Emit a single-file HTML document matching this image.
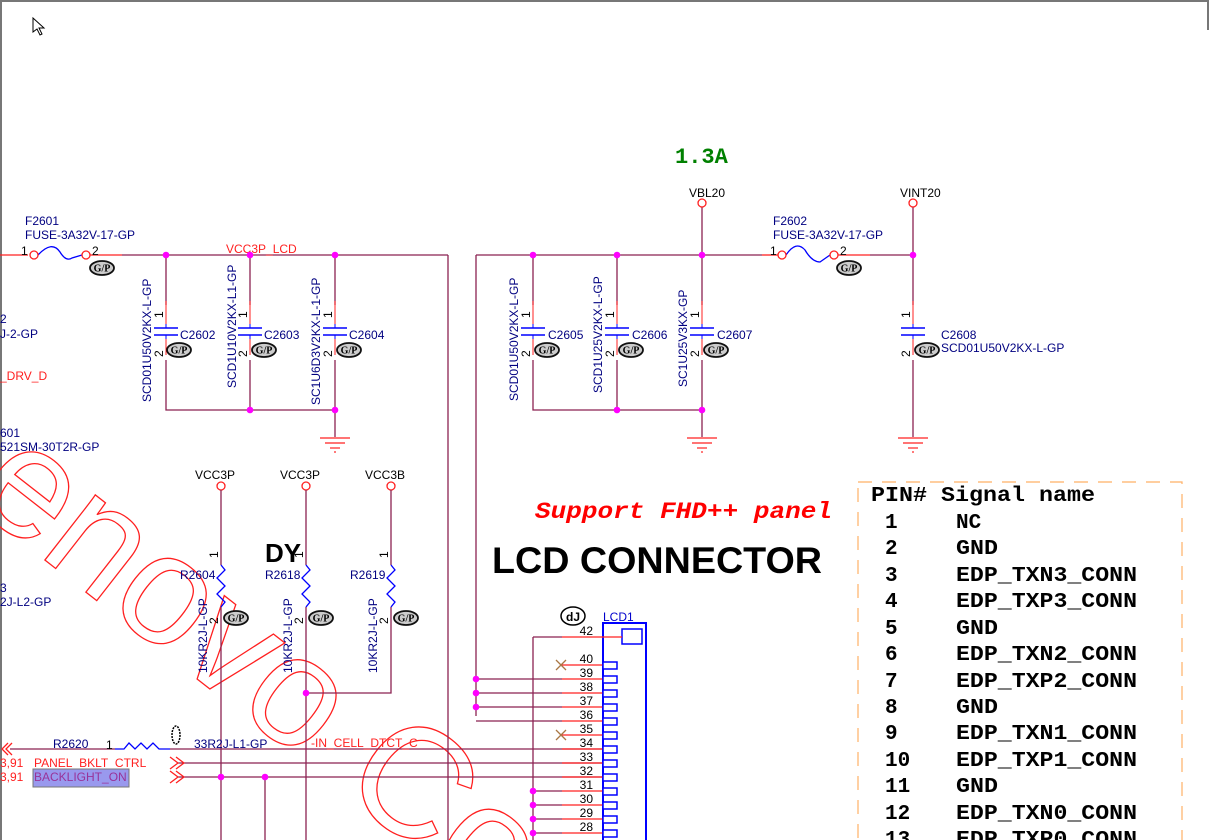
<!DOCTYPE html>
<html><head><meta charset="utf-8"><style>
html,body{margin:0;padding:0;background:#fff;overflow:hidden;width:1211px;height:840px;}
svg{display:block;}
.n{font-family:"Liberation Sans",sans-serif;font-size:12px;fill:#000080;}
.r{font-family:"Liberation Sans",sans-serif;font-size:12px;fill:#ff2020;}
.k{font-family:"Liberation Sans",sans-serif;font-size:12px;fill:#000;}
.m{font-family:"Liberation Mono",monospace;font-weight:bold;font-size:21px;fill:#000;}
</style></head><body>
<svg width="1211" height="840" viewBox="0 0 1211 840" xmlns="http://www.w3.org/2000/svg">
<defs>
<g id="gp"><ellipse cx="0" cy="0" rx="12" ry="7" fill="#ccc" stroke="#111" stroke-width="1.8"/><text x="0" y="3.5" text-anchor="middle" font-family="Liberation Serif,serif" font-weight="bold" font-size="10" fill="#000">G/P</text></g>
<g id="gnd" stroke="#ff2020" stroke-width="1.2"><line x1="-15" y1="0" x2="15" y2="0"/><line x1="-10" y1="5" x2="10" y2="5"/><line x1="-5" y1="10" x2="5" y2="10"/><line x1="-1" y1="14" x2="1" y2="14"/></g>
<g id="cap"><line x1="0" y1="-30" x2="0" y2="-6" stroke="#ff2020"/><line x1="0" y1="6" x2="0" y2="24" stroke="#ff2020"/><line x1="-12" y1="-3" x2="12" y2="-3" stroke="#0000ff" stroke-width="1.5"/><line x1="-12" y1="4" x2="12" y2="4" stroke="#0000ff" stroke-width="1.5"/><line x1="0" y1="-3" x2="0" y2="-7" stroke="#0000ff"/><line x1="0" y1="4" x2="0" y2="8" stroke="#0000ff"/></g>
<g id="dot"><circle r="3.3" fill="#ff00ff"/></g>
<g id="pin"><rect x="0" y="-6" width="14" height="7" fill="#fff" stroke="#0000ff" stroke-width="1.5"/></g>
</defs>
<line x1="0" y1="1" x2="1208" y2="1" stroke="#777" stroke-width="2"/>
<line x1="1" y1="0" x2="1" y2="840" stroke="#777" stroke-width="2"/>
<line x1="1208" y1="0" x2="1208" y2="30" stroke="#777" stroke-width="2"/>
<path d="M33 18 L33 32 L37 29 L40 35 L42 34 L39 28 L44 28 Z" fill="#fff" stroke="#000" stroke-width="1"/>

<text transform="translate(-32,500) rotate(38)" font-family="Liberation Sans,sans-serif" font-size="156" fill="none" stroke="#ff2020" stroke-width="1.3">enovo Confidential</text>

<g fill="none" stroke-width="1.3">
<line x1="0" y1="255" x2="28" y2="255" stroke="#ff2020"/>
<line x1="90" y1="255" x2="122" y2="255" stroke="#ff2020"/>
<line x1="122" y1="255" x2="448" y2="255" stroke="#8b2252"/>
<line x1="448" y1="255" x2="448" y2="840" stroke="#8b2252"/>
<path d="M38 255 Q52 240 60 252 Q66 262 72 258 L82 255" stroke="#0000ff"/>
<circle cx="34" cy="255" r="4" stroke="#ff2020" fill="#fff"/>
<circle cx="86" cy="255" r="4" stroke="#ff2020" fill="#fff"/>
<path d="M166 255 V305 M250 255 V305 M335 255 V305 M166 360 V410 H335 M250 360 V410 M335 360 V437" stroke="#8b2252"/>
</g>
<text class="n" x="25" y="225">F2601</text>
<text class="n" x="25" y="239">FUSE-3A32V-17-GP</text>
<text class="k" x="21" y="255" font-size="11">1</text><text class="k" x="92" y="255" font-size="11">2</text>
<use href="#gp" x="102" y="268"/>
<text class="r" x="226" y="253">VCC3P_LCD</text>
<use href="#cap" x="166" y="331"/><use href="#cap" x="250" y="331"/><use href="#cap" x="335" y="331"/>
<use href="#gp" x="179" y="350"/><use href="#gp" x="264" y="350"/><use href="#gp" x="349" y="350"/>
<text class="n" x="180" y="339">C2602</text><text class="n" x="264" y="339">C2603</text><text class="n" x="349" y="339">C2604</text>
<text transform="translate(163,318) rotate(-90)" class="k">1</text><text transform="translate(163,357) rotate(-90)" class="k">2</text>
<text transform="translate(247,318) rotate(-90)" class="k">1</text><text transform="translate(247,357) rotate(-90)" class="k">2</text>
<text transform="translate(332,318) rotate(-90)" class="k">1</text><text transform="translate(332,357) rotate(-90)" class="k">2</text>
<text class="n" transform="translate(151,402) rotate(-90)">SCD01U50V2KX-L-GP</text>
<text class="n" transform="translate(236,388) rotate(-90)">SCD1U10V2KX-L1-GP</text>
<text class="n" transform="translate(320,405) rotate(-90)">SC1U6D3V2KX-L-1-GP</text>
<use href="#dot" x="166" y="255"/><use href="#dot" x="250" y="255"/><use href="#dot" x="335" y="255"/>
<use href="#dot" x="250" y="410"/><use href="#dot" x="335" y="410"/>
<use href="#gnd" x="335" y="438"/>
<text class="n" x="0" y="323">2</text><text class="n" x="0" y="338">J-2-GP</text>
<text class="r" x="0" y="380">_DRV_D</text>
<text class="n" x="0" y="437">601</text><text class="n" x="0" y="451">521SM-30T2R-GP</text>
<text class="n" x="0" y="592">3</text><text class="n" x="0" y="606">2J-L2-GP</text>

<g fill="none" stroke-width="1.3">
<path d="M476 255 H762 M476 255 V716 M702 207 V255 M913 207 V255 M913 255 V305 M913 360 V437" stroke="#8b2252"/>
<line x1="762" y1="255" x2="778" y2="255" stroke="#ff2020"/>
<line x1="838" y1="255" x2="870" y2="255" stroke="#ff2020"/>
<line x1="870" y1="255" x2="913" y2="255" stroke="#8b2252"/>
<path d="M786 255 Q796 240 805 250 Q812 262 820 262 L830 255" stroke="#0000ff"/>
<circle cx="782" cy="255" r="4" stroke="#ff2020" fill="#fff"/>
<circle cx="834" cy="255" r="4" stroke="#ff2020" fill="#fff"/>
<circle cx="702" cy="203" r="4" stroke="#ff2020" fill="#fff"/>
<circle cx="913" cy="203" r="4" stroke="#ff2020" fill="#fff"/>
<path d="M533 255 V305 M617 255 V305 M702 255 V305 M533 360 V410 H702 M617 360 V410 M702 360 V437" stroke="#8b2252"/>
</g>
<text x="675" y="163" font-family="Liberation Mono,monospace" font-weight="bold" font-size="22" fill="#008000">1.3A</text>
<text class="k" x="689" y="197">VBL20</text><text class="k" x="900" y="197">VINT20</text>
<text class="n" x="773" y="225">F2602</text><text class="n" x="773" y="239">FUSE-3A32V-17-GP</text>
<text class="k" x="770" y="255" font-size="11">1</text><text class="k" x="840" y="255" font-size="11">2</text>
<use href="#gp" x="849" y="268"/>
<use href="#cap" x="533" y="331"/><use href="#cap" x="617" y="331"/><use href="#cap" x="702" y="331"/><use href="#cap" x="913" y="331"/>
<use href="#gp" x="547" y="350"/><use href="#gp" x="631" y="350"/><use href="#gp" x="716" y="350"/><use href="#gp" x="927" y="350"/>
<text class="n" x="548" y="339">C2605</text><text class="n" x="632" y="339">C2606</text><text class="n" x="717" y="339">C2607</text>
<text class="n" x="941" y="339">C2608</text><text class="n" x="941" y="352">SCD01U50V2KX-L-GP</text>
<text transform="translate(530,318) rotate(-90)" class="k">1</text><text transform="translate(530,357) rotate(-90)" class="k">2</text>
<text transform="translate(614,318) rotate(-90)" class="k">1</text><text transform="translate(614,357) rotate(-90)" class="k">2</text>
<text transform="translate(699,318) rotate(-90)" class="k">1</text><text transform="translate(699,357) rotate(-90)" class="k">2</text>
<text transform="translate(910,318) rotate(-90)" class="k">1</text><text transform="translate(910,357) rotate(-90)" class="k">2</text>
<text class="n" transform="translate(518,401) rotate(-90)">SCD01U50V2KX-L-GP</text>
<text class="n" transform="translate(602,393) rotate(-90)">SCD1U25V2KX-L-GP</text>
<text class="n" transform="translate(687,387) rotate(-90)">SC1U25V3KX-GP</text>
<use href="#dot" x="533" y="255"/><use href="#dot" x="617" y="255"/><use href="#dot" x="702" y="255"/><use href="#dot" x="913" y="255"/>
<use href="#dot" x="617" y="410"/><use href="#dot" x="702" y="410"/>
<use href="#gnd" x="702" y="438"/><use href="#gnd" x="913" y="438"/>

<g fill="none" stroke-width="1.3">
<circle cx="221" cy="486" r="4" stroke="#ff2020" fill="#fff"/>
<circle cx="306" cy="486" r="4" stroke="#ff2020" fill="#fff"/>
<circle cx="391" cy="486" r="4" stroke="#ff2020" fill="#fff"/>
<path d="M221 490 V565 M306 490 V565 M391 490 V565" stroke="#8b2252"/>
<path d="M221 607 V840 M306 607 V840 M391 607 V693 H306" stroke="#8b2252"/>
<path d="M221 565 l4 5 l-8 8 l8 8 l-8 8 l8 8 l-4 5 M306 565 l4 5 l-8 8 l8 8 l-8 8 l8 8 l-4 5 M391 565 l4 5 l-8 8 l8 8 l-8 8 l8 8 l-4 5" stroke="#0000ff"/>
</g>
<text class="k" x="195" y="479">VCC3P</text><text class="k" x="280" y="479">VCC3P</text><text class="k" x="365" y="479">VCC3B</text>
<text class="n" x="180" y="579">R2604</text><text class="n" x="265" y="579">R2618</text><text class="n" x="350" y="579">R2619</text>
<text x="265" y="562" font-family="Liberation Sans,sans-serif" font-weight="bold" font-size="26" fill="#000">DY</text>
<use href="#gp" x="236" y="618"/><use href="#gp" x="321" y="618"/><use href="#gp" x="406" y="618"/>
<text transform="translate(218,558) rotate(-90)" class="k">1</text><text transform="translate(218,624) rotate(-90)" class="k">2</text>
<text transform="translate(303,558) rotate(-90)" class="k">1</text><text transform="translate(303,624) rotate(-90)" class="k">2</text>
<text transform="translate(388,558) rotate(-90)" class="k">1</text><text transform="translate(388,624) rotate(-90)" class="k">2</text>
<text class="n" transform="translate(207,673) rotate(-90)">10KR2J-L-GP</text>
<text class="n" transform="translate(292,673) rotate(-90)">10KR2J-L-GP</text>
<text class="n" transform="translate(377,673) rotate(-90)">10KR2J-L-GP</text>
<use href="#dot" x="306" y="693"/>

<g fill="none" stroke-width="1.3">
<path d="M10 749 H115 M170 749 H603 M178 763 H603 M178 777 H603" stroke="#8b2252"/>
<path d="M115 749 H124 l5 -6 l6 6 l6 -6 l6 6 l6 -6 l6 6 H170" stroke="#0000ff"/>
<path d="M265 777 V840" stroke="#8b2252"/>
<path d="M12 743 l-6 6 l6 6 M8 743 l-6 6 l6 6" stroke="#ff2020"/>
<path d="M170 757 l8 6 l-8 6 M176 757 l8 6 l-8 6 M170 771 l8 6 l-8 6 M176 771 l8 6 l-8 6" stroke="#ff2020"/>
</g>
<text class="n" x="53" y="748">R2620</text><text class="k" x="106" y="749">1</text>
<ellipse cx="176" cy="735" rx="4" ry="9" fill="#fff" stroke="#000" stroke-width="1.5" stroke-dasharray="2 1"/>
<text class="n" x="194" y="748">33R2J-L1-GP</text>
<text class="r" x="311" y="747">-IN_CELL_DTCT_C</text>
<text class="r" x="0" y="767">3,91</text><text class="r" x="34" y="767">PANEL_BKLT_CTRL</text>
<text class="r" x="0" y="781">3,91</text>
<rect x="33" y="769" width="96" height="18" fill="#9999ee" stroke="#777"/>
<text x="34" y="781" font-family="Liberation Sans,sans-serif" font-size="12" fill="#993399">BACKLIGHT_ON</text>
<use href="#dot" x="221" y="777"/><use href="#dot" x="265" y="777"/>

<text x="535" y="518" font-family="Liberation Mono,monospace" font-weight="bold" font-style="italic" font-size="23" fill="#ff0000" textLength="297" lengthAdjust="spacingAndGlyphs">Support FHD++ panel</text>
<text x="492" y="573" font-family="Liberation Sans,sans-serif" font-weight="bold" font-size="37" fill="#000" textLength="330" lengthAdjust="spacingAndGlyphs">LCD CONNECTOR</text>
<ellipse cx="573" cy="616" rx="12" ry="9" fill="#fff" stroke="#000" stroke-width="1.5"/><text x="573" y="621" text-anchor="middle" font-family="Liberation Sans,sans-serif" font-weight="bold" font-size="12">dJ</text>
<text x="603" y="621" font-family="Liberation Sans,sans-serif" font-size="12" fill="#0000cc">LCD1</text>
<rect x="603" y="623" width="43" height="230" fill="none" stroke="#0000ff" stroke-width="2"/>
<rect x="622" y="629" width="20" height="15" fill="#fff" stroke="#0000ff" stroke-width="1.5"/>
<g fill="none" stroke-width="1.3">
<path d="M533 637 H562 M533 637 V840 M476 679 H562 M476 693 H562 M476 707 H562 M476 721 H562 M533 791 H562 M533 805 H562 M533 819 H562 M533 833 H562" stroke="#8b2252"/>
<path d="M562 637 H622 M562 665 H603 M562 679 H603 M562 693 H603 M562 707 H603 M562 721 H603 M562 735 H603 M562 749 H603 M562 763 H603 M562 777 H603 M562 791 H603 M562 805 H603 M562 819 H603 M562 833 H603" stroke="#ff2020"/>
<path d="M556 660 l10 10 M566 660 l-10 10 M556 730 l10 10 M566 730 l-10 10" stroke="#aa7744"/>
</g>
<use href="#pin" x="603" y="668"/><use href="#pin" x="603" y="682"/><use href="#pin" x="603" y="696"/><use href="#pin" x="603" y="710"/><use href="#pin" x="603" y="724"/><use href="#pin" x="603" y="738"/><use href="#pin" x="603" y="752"/><use href="#pin" x="603" y="766"/><use href="#pin" x="603" y="780"/><use href="#pin" x="603" y="794"/><use href="#pin" x="603" y="808"/><use href="#pin" x="603" y="822"/><use href="#pin" x="603" y="836"/>
<g text-anchor="end">
<text x="593" y="635" class="k">42</text><text x="593" y="663" class="k">40</text><text x="593" y="677" class="k">39</text><text x="593" y="691" class="k">38</text><text x="593" y="705" class="k">37</text><text x="593" y="719" class="k">36</text><text x="593" y="733" class="k">35</text><text x="593" y="747" class="k">34</text><text x="593" y="761" class="k">33</text><text x="593" y="775" class="k">32</text><text x="593" y="789" class="k">31</text><text x="593" y="803" class="k">30</text><text x="593" y="817" class="k">29</text><text x="593" y="831" class="k">28</text>
</g>
<use href="#dot" x="476" y="679"/><use href="#dot" x="476" y="693"/><use href="#dot" x="476" y="707"/>
<use href="#dot" x="533" y="791"/><use href="#dot" x="533" y="805"/><use href="#dot" x="533" y="819"/><use href="#dot" x="533" y="833"/>

<rect x="858" y="482" width="324" height="370" fill="none" stroke="#ffb066" stroke-width="1.2" stroke-dasharray="14 10"/>
<text class="m" x="871" y="501" textLength="224" lengthAdjust="spacingAndGlyphs">PIN# Signal name</text>
<text class="m" x="885" y="528">1</text><text class="m" x="956" y="528">NC</text>
<text class="m" x="885" y="554">2</text><text class="m" x="956" y="554" textLength="42" lengthAdjust="spacingAndGlyphs">GND</text>
<text class="m" x="885" y="581">3</text><text class="m" x="956" y="581" textLength="181" lengthAdjust="spacingAndGlyphs">EDP_TXN3_CONN</text>
<text class="m" x="885" y="607">4</text><text class="m" x="956" y="607" textLength="181" lengthAdjust="spacingAndGlyphs">EDP_TXP3_CONN</text>
<text class="m" x="885" y="634">5</text><text class="m" x="956" y="634" textLength="42" lengthAdjust="spacingAndGlyphs">GND</text>
<text class="m" x="885" y="660">6</text><text class="m" x="956" y="660" textLength="181" lengthAdjust="spacingAndGlyphs">EDP_TXN2_CONN</text>
<text class="m" x="885" y="687">7</text><text class="m" x="956" y="687" textLength="181" lengthAdjust="spacingAndGlyphs">EDP_TXP2_CONN</text>
<text class="m" x="885" y="713">8</text><text class="m" x="956" y="713" textLength="42" lengthAdjust="spacingAndGlyphs">GND</text>
<text class="m" x="885" y="739">9</text><text class="m" x="956" y="739" textLength="181" lengthAdjust="spacingAndGlyphs">EDP_TXN1_CONN</text>
<text class="m" x="885" y="766">10</text><text class="m" x="956" y="766" textLength="181" lengthAdjust="spacingAndGlyphs">EDP_TXP1_CONN</text>
<text class="m" x="885" y="792">11</text><text class="m" x="956" y="792" textLength="42" lengthAdjust="spacingAndGlyphs">GND</text>
<text class="m" x="885" y="819">12</text><text class="m" x="956" y="819" textLength="181" lengthAdjust="spacingAndGlyphs">EDP_TXN0_CONN</text>
<text class="m" x="885" y="845">13</text><text class="m" x="956" y="845" textLength="181" lengthAdjust="spacingAndGlyphs">EDP_TXP0_CONN</text>
</svg>
</body></html>
